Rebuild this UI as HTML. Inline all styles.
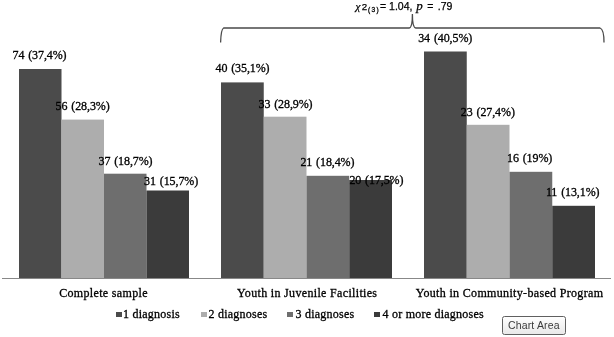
<!DOCTYPE html>
<html>
<head>
<meta charset="utf-8">
<style>
html,body{margin:0;padding:0;background:#fff;}
body{width:614px;height:337px;overflow:hidden;position:relative;}
svg{position:absolute;left:0;top:0;display:block;filter:grayscale(1);}
.dl{font-family:"Liberation Serif",serif;font-size:12px;fill:#000;word-spacing:1px;letter-spacing:-0.1px;stroke:#000;stroke-width:0.3px;}
.cat{font-family:"Liberation Serif",serif;font-size:12px;letter-spacing:0.33px;fill:#000;text-anchor:middle;stroke:#000;stroke-width:0.3px;}
.lg{font-family:"Liberation Serif",serif;font-size:12px;letter-spacing:0.23px;fill:#000;stroke:#000;stroke-width:0.3px;}
.tt{font-family:"Liberation Sans",sans-serif;font-size:10.5px;fill:#3a3a3a;letter-spacing:0.15px;}
</style>
</head>
<body>
<svg width="614" height="337" viewBox="0 0 614 337">
  <!-- brace -->
  <path d="M220.6,42.5 C220.8,36 221.2,29 223.6,28 L409,28 C411,28 412.4,24 412.4,14 C412.4,24 414,28 416,28 L600,28 C603,29 604,35 604,42.5" fill="none" stroke="#4a4a4a" stroke-width="1.3"/>
  <!-- chi text -->
  <text x="355.4" y="10" font-family="Liberation Serif" font-style="italic" font-size="11.2" stroke="#000" stroke-width="0.25">χ</text>
  <text x="361.8" y="9.9" font-family="Liberation Sans" font-size="9.8" stroke="#000" stroke-width="0.25">2</text>
  <text x="368" y="12.2" font-family="Liberation Sans" font-size="6.5" letter-spacing="1.4" stroke="#000" stroke-width="0.3">(3)</text>
  <text x="380" y="10.3" font-family="Liberation Sans" font-size="10.5" stroke="#000" stroke-width="0.25">= 1.04,</text>
  <text x="416.3" y="10.3" font-family="Liberation Serif" font-style="italic" font-size="13" stroke="#000" stroke-width="0.25">p</text>
  <text x="427.2" y="10.3" font-family="Liberation Sans" font-size="10.5" stroke="#000" stroke-width="0.25">=</text>
  <text x="437.8" y="10.3" font-family="Liberation Sans" font-size="10.5" stroke="#000" stroke-width="0.25">.79</text>

  <g>
    <rect x="19.00" y="69.00" width="42.50" height="209.00" fill="#4b4b4b"/>
    <rect x="61.50" y="119.60" width="42.50" height="158.40" fill="#adadad"/>
    <rect x="104.00" y="173.70" width="42.50" height="104.30" fill="#6e6e6e"/>
    <rect x="146.50" y="190.50" width="42.50" height="87.50" fill="#3b3b3b"/>
    <rect x="221.00" y="82.40" width="42.75" height="195.60" fill="#4b4b4b"/>
    <rect x="263.75" y="116.70" width="42.75" height="161.30" fill="#adadad"/>
    <rect x="306.50" y="175.80" width="42.75" height="102.20" fill="#6e6e6e"/>
    <rect x="349.25" y="180.00" width="42.75" height="98.00" fill="#3b3b3b"/>
    <rect x="424.00" y="51.50" width="42.75" height="226.50" fill="#4b4b4b"/>
    <rect x="466.75" y="124.80" width="42.75" height="153.20" fill="#adadad"/>
    <rect x="509.50" y="171.80" width="42.75" height="106.20" fill="#6e6e6e"/>
    <rect x="552.25" y="205.80" width="42.75" height="72.20" fill="#3b3b3b"/>
  </g>
  <!-- axis -->
  <line x1="2" y1="278.5" x2="611" y2="278.5" stroke="#888888" stroke-width="1"/>

  <!-- data labels -->
  <text class="dl" x="12.50" y="59.30">74 (37,4%)</text>
  <text class="dl" x="55.60" y="110.20">56 (28,3%)</text>
  <text class="dl" x="98.50" y="164.50">37 (18,7%)</text>
  <text class="dl" x="144.10" y="185.10">31 (15,7%)</text>
  <text class="dl" x="215.50" y="72.30">40 (35,1%)</text>
  <text class="dl" x="258.50" y="107.80">33 (28,9%)</text>
  <text class="dl" x="300.40" y="166.40">21 (18,4%)</text>
  <text class="dl" x="349.40" y="184.00">20 (17,5%)</text>
  <text class="dl" x="418.20" y="42.30">34 (40,5%)</text>
  <text class="dl" x="460.80" y="116.20">23 (27,4%)</text>
  <text class="dl" x="507.00" y="162.40">16 (19%)</text>
  <text class="dl" x="545.90" y="196.20">11 (13,1%)</text>

  <!-- category labels -->
  <text class="cat" x="103.5" y="297">Complete sample</text>
  <text class="cat" x="307.2" y="297">Youth in Juvenile Facilities</text>
  <text class="cat" x="509.5" y="297">Youth in Community-based Program</text>

  <!-- legend -->
  <rect x="116" y="312" width="6" height="5" fill="#4b4b4b"/>
  <text class="lg" x="123" y="318">1 diagnosis</text>
  <rect x="201" y="312" width="6" height="5" fill="#adadad"/>
  <text class="lg" x="208.5" y="318">2 diagnoses</text>
  <rect x="287" y="312" width="6" height="5" fill="#6e6e6e"/>
  <text class="lg" x="295.5" y="318">3 diagnoses</text>
  <rect x="374" y="312" width="6" height="5" fill="#3b3b3b"/>
  <text class="lg" x="382.5" y="318">4 or more diagnoses</text>

  <!-- tooltip -->
  <defs>
    <linearGradient id="tg" x1="0" y1="0" x2="0" y2="1">
      <stop offset="0" stop-color="#ffffff"/>
      <stop offset="1" stop-color="#e8e8e8"/>
    </linearGradient>
  </defs>
  <rect x="502.5" y="316.5" width="63" height="18" rx="2" ry="2" fill="url(#tg)" stroke="#606060" stroke-width="1"/>
  <text class="tt" x="508" y="329">Chart Area</text>
</svg>
</body>
</html>
